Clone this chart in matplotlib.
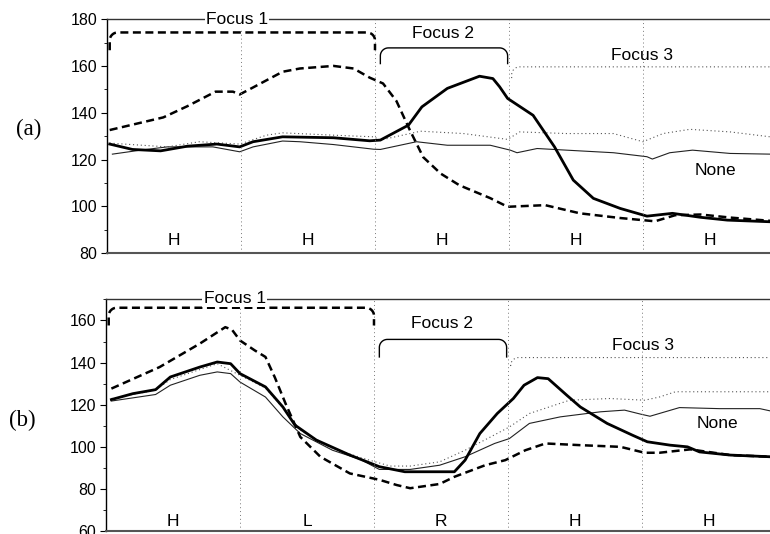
import numpy as np
import matplotlib
matplotlib.use("Agg")
import matplotlib.pyplot as plt

plt.rcParams['font.family'] = ['Liberation Sans', 'DejaVu Sans']

# ---- panel (a): x in time units, 10 per task segment ----
a_f1_x = [0.2, 4.2, 6.0, 8.1, 9.4, 9.9, 10.9, 13.1, 14.4, 16.9, 18.4, 19.6, 20.6, 21.6, 22.6,
          23.6, 24.9, 26.3, 28.6, 29.9, 32.7, 35.3, 38.3, 40.9, 42.4, 44.3, 46.5, 49.5]
a_f1_y = [132.6, 138, 142.8, 149, 149, 147.8, 150.8, 157.5, 158.9, 160, 158.9, 155, 152.5, 145, 132.6,
          121, 114, 109, 103.5, 99.8, 100.5, 97, 95, 93.6, 96.2, 96.5, 95.2, 93.8]

a_f2_x = [0.2, 1.9, 4.0, 6.0, 8.2, 9.9, 10.9, 13.1, 16.9, 19.6, 20.4, 22.5, 23.5, 25.4, 27.8, 28.8,
          29.3, 29.9, 31.8, 33.4, 34.8, 36.3, 38.3, 40.3, 42.2, 44.3, 46.3, 49.5]
a_f2_y = [126.6, 124.3, 123.7, 125.7, 126.6, 125.4, 127.6, 129.7, 129.3, 128.0, 128.3, 134.7, 142.5,
          150.4, 155.6, 154.6, 151.1, 146.1, 138.9, 125.4, 111.2, 103.4, 99.1, 95.8, 97, 95.3, 94.1, 93.4]

a_f3_x = [0.2, 4.5, 6.9, 9.9, 11.9, 13.1, 16.9, 19.9, 20.4, 23.4, 26.6, 29.9, 30.8, 34.3, 37.8,
          40.0, 41.5, 43.5, 46.5, 49.5]
a_f3_y = [127, 125.4, 127.6, 126.6, 130.4, 131.4, 130.4, 129.7, 128.3, 132.1, 131.1, 128.6, 131.8,
          131.1, 131.1, 127.6, 131.1, 132.9, 131.8, 129.7]

a_none_x = [0.4, 2.5, 4.5, 7.9, 9.9, 10.9, 13.1, 14.4, 16.9, 19.9, 20.4, 23.1, 25.4, 28.6, 30.1,
            30.6, 32.1, 34.3, 37.8, 40.3, 40.7, 42.0, 43.7, 46.5, 49.5]
a_none_y = [122.3, 124, 125.4, 125.4, 123.3, 125.4, 127.9, 127.6, 126.4, 124.4, 124.3, 127.6, 126.1,
            126.1, 124, 122.9, 124.7, 124, 122.9, 121.2, 120.2, 122.9, 124, 122.6, 122.3]

a_segments = ['H', 'H', 'H', 'H', 'H']

# ---- panel (b) ----
b_f1_x = [0.4, 4.0, 7.0, 8.9, 9.4, 10.0, 11.1, 11.9, 12.6, 13.4, 14.5, 16.0, 18.2, 20.4, 21.7,
          22.7, 24.9, 26.0, 28.3, 29.8, 31.3, 32.8, 35.4, 38.4, 40.2, 41.3, 43.6, 46.6, 49.6]
b_f1_y = [127.7, 137.9, 149, 156.8, 155.6, 150.5, 145.8, 142.7, 133, 120.6, 104.8, 95.4, 87.5, 84.5,
          82, 80.5, 82.5, 85.9, 91.4, 93.8, 98.5, 101.7, 100.9, 100.1, 97.3, 97.3, 98.9, 96.2, 95.4]

b_f2_x = [0.4, 2.0, 3.7, 4.8, 7.0, 8.3, 9.3, 10.0, 11.9, 13.2, 14.1, 15.7, 18.2, 20.4, 22.3, 26.0,
          26.8, 27.9, 29.2, 30.4, 31.2, 32.2, 33.0, 34.4, 35.4, 37.4, 39.3, 40.4, 42.1, 43.4, 44.3,
          46.6, 49.6]
b_f2_y = [122.5, 125.3, 127.2, 133.2, 137.9, 140.3, 139.5, 134.8, 128.5, 119, 110.4, 103.3, 96.2,
          90.7, 88.3, 88.3, 93.8, 106.4, 115.9, 123, 129.3, 132.9, 132.4, 124.5, 119, 111.2, 105.6,
          102.5, 100.9, 100.1, 97.7, 96.2, 95.4]

b_f3_x = [0.4, 3.7, 4.8, 8.3, 10.0, 11.9, 13.4, 14.5, 16.7, 19.0, 21.2, 22.7, 24.9, 26.8, 28.7,
          30.1, 31.6, 34.6, 37.6, 40.2, 41.3, 42.5, 45.8, 49.6]
b_f3_y = [123, 127, 132, 139.5, 134, 128, 117, 108, 100, 95, 91, 91, 93, 98.5, 104.8, 109.5, 115.9,
          122.2, 123, 122.2, 123.7, 126.2, 126.2, 126.2]

b_none_x = [0.4, 3.7, 4.8, 7.0, 8.3, 9.3, 10.0, 11.9, 13.2, 14.5, 16.9, 19.0, 20.4, 22.7, 24.9,
            26.8, 29.0, 30.1, 31.6, 33.9, 36.9, 38.7, 39.9, 40.6, 42.8, 45.8, 48.8, 49.6]
b_none_y = [121.8, 124.9, 129.3, 134, 135.6, 134.8, 130.8, 123.7, 114.3, 106.4, 98.5, 94.1, 89.4,
            89.4, 91.4, 95.4, 101.7, 104, 111.2, 114.3, 116.7, 117.5, 115.6, 114.6, 118.7, 118.2,
            118.2, 117.1]

b_segments = ['H', 'L', 'R', 'H', 'H']


def bracket(ax, x0, x1, ytop, ybot, ry, style, right=True):
    rx = 0.6
    t = np.linspace(0, np.pi / 2, 12)
    xs = [x0, x0] + list(x0 + rx - rx * np.cos(t))
    ys = [ybot, ytop - ry] + list(ytop - ry + ry * np.sin(t))
    if right:
        xs += list(x1 - rx + rx * np.sin(t)) + [x1, x1]
        ys += list(ytop - ry + ry * np.cos(t)) + [ytop - ry, ybot]
    else:
        xs += [x1]
        ys += [ytop]
    ax.plot(xs, ys, **style, clip_on=False)


dash_style = dict(color='black', lw=1.8, linestyle=(0, (3.2, 1.8)))
solid_style = dict(color='black', lw=1.0)
dot_style = dict(color='#555555', lw=0.8, linestyle=(0, (1, 2.5)))


def draw_panel(ax, ylim, data, segs, seg_y, labels, brackets, yticks):
    f1x, f1y, f2x, f2y, f3x, f3y, nx, ny = data
    ax.plot(nx, ny, color='#222222', lw=0.8)
    ax.plot(f3x, f3y, **dot_style)
    ax.plot(f2x, f2y, color='black', lw=2.0)
    ax.plot(f1x, f1y, **dash_style)

    for xv in [10, 20, 30, 40]:
        ax.axvline(xv, color='#777777', lw=0.7, linestyle=(0, (1, 3)))

    for i, s in enumerate(segs):
        ax.text(i * 10 + 5, seg_y, s, ha='center', va='center', fontsize=12.5)

    (b1, b2, b3) = brackets
    bracket(ax, 0.2, 20.0, b1[0], b1[1], b1[2], dash_style)
    bracket(ax, 20.4, 29.9, b2[0], b2[1], b2[2], dict(color='black', lw=1.0))
    bracket(ax, 30.2, 50, b3[0], b3[1], b3[2], dot_style, right=False)

    for txt, (tx, ty), bg in labels:
        kw = dict(facecolor='white', edgecolor='none', pad=1) if bg else None
        ax.text(tx, ty, txt, ha='center', va='center', fontsize=12.5, bbox=kw, zorder=5,
                clip_on=False)

    ax.set_xlim(0, 50)
    ax.set_ylim(*ylim)
    ax.set_xticks([])
    ax.set_yticks(yticks)
    ax.set_yticks(np.arange(ylim[0], ylim[1] + 1, 10), minor=True)
    ax.tick_params(axis='y', direction='out', length=4, width=0.8, labelsize=11.5, pad=3)
    ax.tick_params(axis='y', which='minor', direction='out', length=2, width=0.6)
    ax.spines['right'].set_visible(False)
    ax.spines['top'].set_color('#333333')
    ax.spines['top'].set_linewidth(1.0)
    ax.spines['left'].set_linewidth(1.0)
    ax.spines['bottom'].set_color('#555555')
    ax.spines['bottom'].set_linewidth(1.5)


fig = plt.figure(figsize=(7.7, 5.34), dpi=100)

ax1 = fig.add_axes([0.139, 0.526, 0.870, 0.4382])
draw_panel(ax1, (80, 180),
           (a_f1_x, a_f1_y, a_f2_x, a_f2_y, a_f3_x, a_f3_y, a_none_x, a_none_y),
           a_segments, 85.5,
           [('Focus 1', (9.7, 180), True), ('Focus 2', (25.1, 173.9), False),
            ('Focus 3', (39.9, 164.6), False), ('None', (45.4, 115.2), False)],
           [(174.3, 166.7, 3.4), (167.7, 161.0, 3.4), (159.6, 154.8, 3.4)],
           [80, 100, 120, 140, 160, 180])

ax2 = fig.add_axes([0.1377, 0.0047, 0.870, 0.4348])
draw_panel(ax2, (60, 170),
           (b_f1_x, b_f1_y, b_f2_x, b_f2_y, b_f3_x, b_f3_y, b_none_x, b_none_y),
           b_segments, 64.6,
           [('Focus 1', (9.6, 170.5), True), ('Focus 2', (25.1, 158.7), False),
            ('Focus 3', (40.1, 148.2), False), ('None', (45.6, 111.2), False)],
           [(166.0, 157.6, 3.8), (151.0, 142.7, 3.8), (142.4, 138.8, 3.8)],
           [60, 80, 100, 120, 140, 160])

fig.text(0.037, 0.757, '(a)', family=['Liberation Serif', 'DejaVu Serif'], fontsize=16.5,
         ha='center', va='center')
fig.text(0.029, 0.2135, '(b)', family=['Liberation Serif', 'DejaVu Serif'], fontsize=16.5,
         ha='center', va='center')

fig.savefig('out.png', dpi=100)
